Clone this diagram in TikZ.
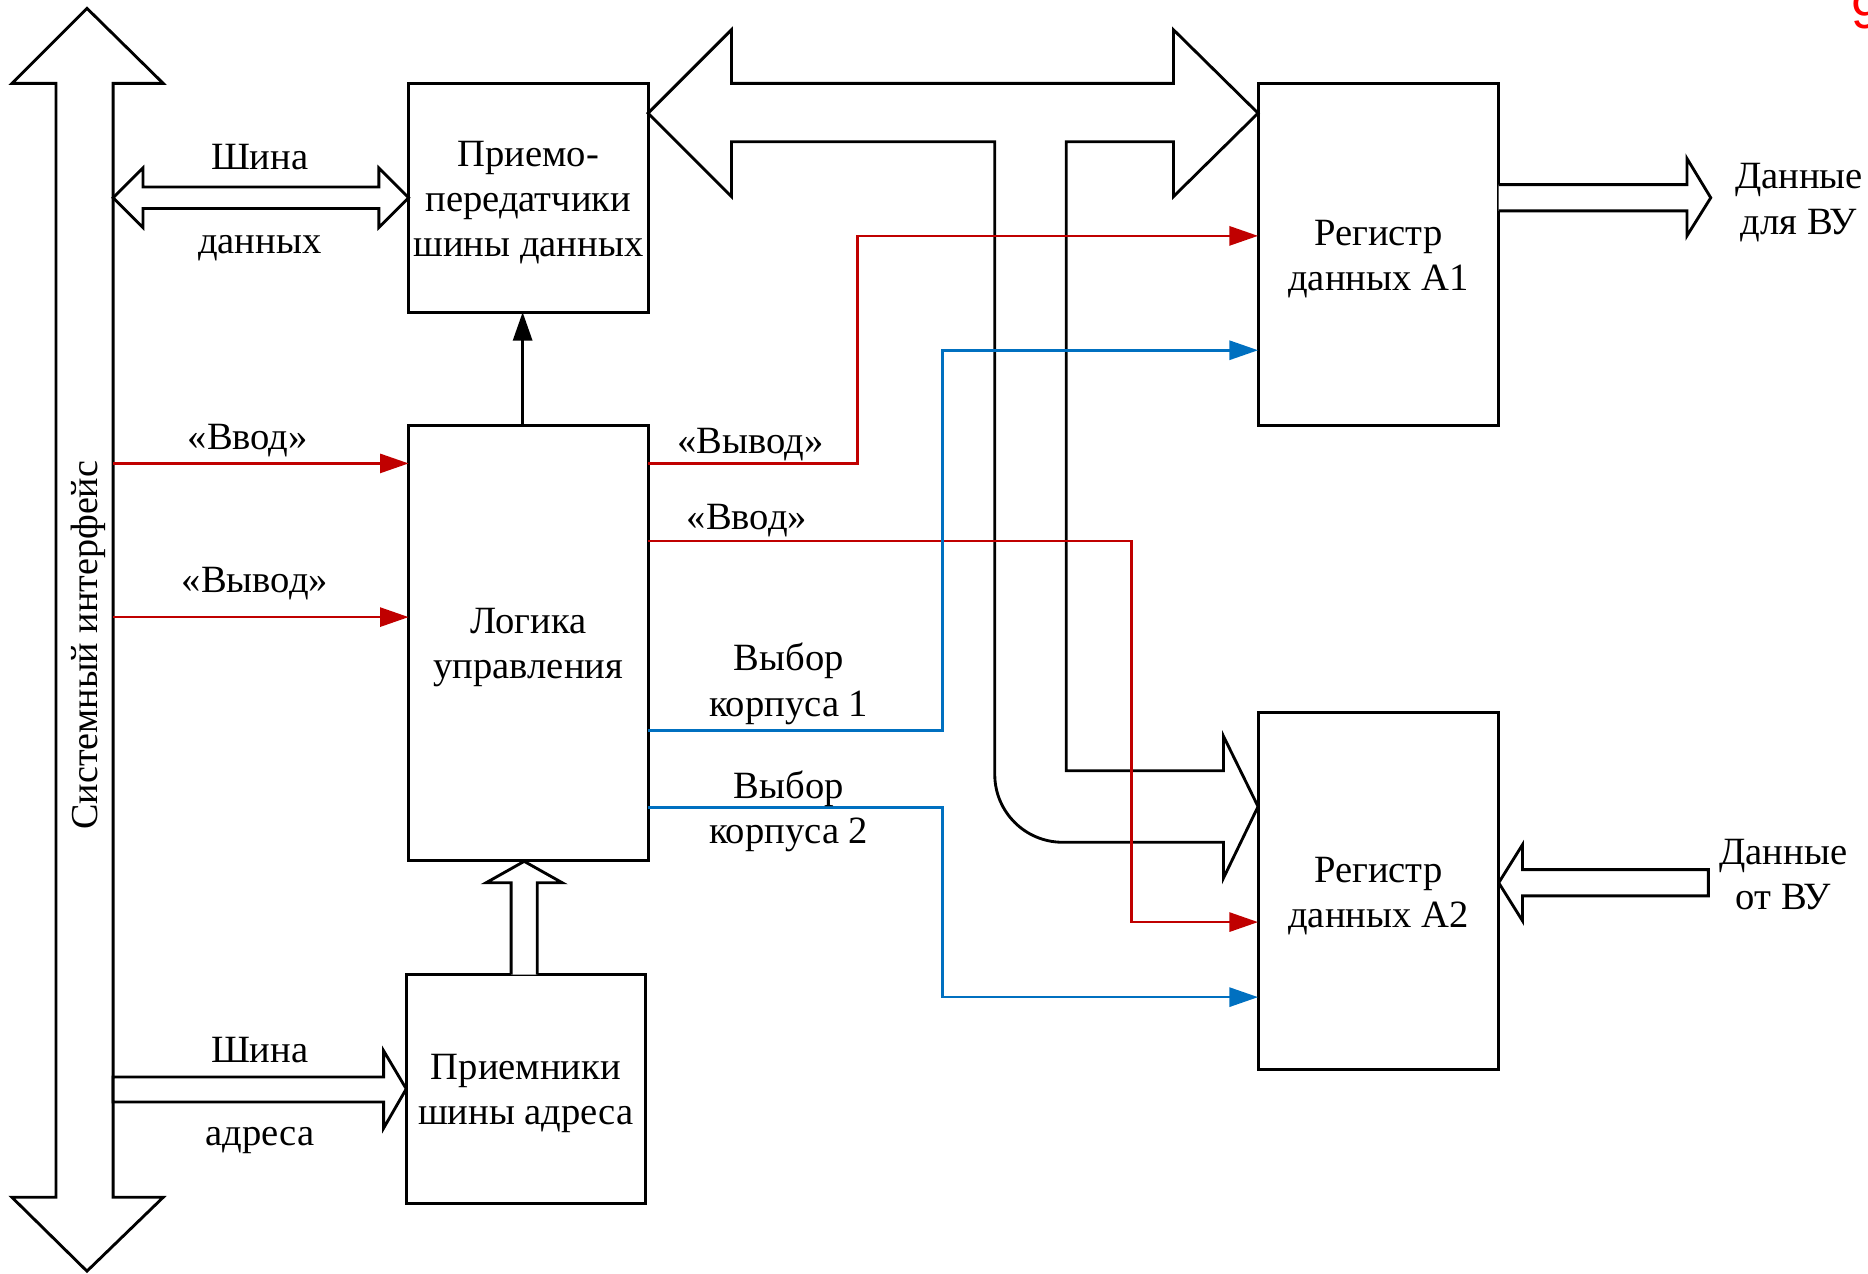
\documentclass[tikz,border=0pt]{standalone}
\usepackage{fontspec}
\setmainfont{Liberation Serif}
\newfontfamily\ninefont{Liberation Sans}
\usetikzlibrary{arrows.meta}
\definecolor{sigred}{RGB}{192,0,0}
\definecolor{sigblue}{RGB}{0,112,192}
\begin{document}
\begin{tikzpicture}[x=0.5pt,y=-0.5pt,
  font=\fontsize{16.2}{19}\selectfont,
  box/.style={draw, line width=1.3pt, inner sep=0pt, outer sep=0pt},
  wide/.style={draw, line width=1.2pt, line join=miter, fill=white},
  tip/.style={-{Triangle[length=12pt,width=8pt]}},
  redl/.style={draw=sigred, line width=1.1pt, tip},
  bluel/.style={draw=sigblue, line width=1.1pt, tip},
  blkl/.style={draw=black, line width=1.3pt, tip},
  lbl/.style={inner sep=0pt, align=center, yshift=-2pt}]
\useasboundingbox (0,0) rectangle (1568,1069);

% system interface bus
\draw[wide] (73,7) -- (137,70) -- (95,70) -- (95,1005) -- (137,1005) -- (73,1067)
  -- (10,1005) -- (47,1005) -- (47,70) -- (10,70) -- cycle;
\node[inner sep=0pt, rotate=90, font=\fontsize{16}{19}\selectfont] (si) at (74,541.5) {Системный интерфейс};

% boxes
\node[box, minimum width=100.5pt, minimum height=96pt] (P) at (443.5,166) {};
\node[lbl] (Pt) at (P.center) {Приемо-\\передатчики\\шины данных};
\node[box, minimum width=100.5pt, minimum height=182.5pt] (L) at (443.5,539.5) {};
\node[lbl] (Lt) at (L.center) {Логика\\управления};
\node[box, minimum width=100.5pt, minimum height=96pt] (R) at (441.5,914) {};
\node[lbl] (Rt) at (R.center) {Приемники\\шины адреса};
\node[box, minimum width=101pt, minimum height=143.5pt] (A1) at (1157,213.5) {};
\node[lbl] (A1t) at (A1.center) {Регистр\\данных А1};
\node[box, minimum width=101pt, minimum height=150pt] (A2) at (1157,748) {};
\node[lbl] (A2t) at (A2.center) {Регистр\\данных А2};

% data bus (left)
\draw[wide] (95,166) -- (120,141) -- (120,157) -- (318,157) -- (318,141) -- (343,166)
  -- (318,191) -- (318,175) -- (120,175) -- (120,191) -- cycle;
\node[lbl] (shd1) at (218,128) {Шина};
\node[lbl] (shd2) at (218,204) {данных};

% address bus
\draw[wide] (95,904) -- (322,904) -- (322,882) -- (341,914) -- (322,947) -- (322,925)
  -- (95,925) -- cycle;
\node[lbl] (sha1) at (218,877) {Шина};
\node[lbl] (sha2) at (218,953) {адреса};

% hollow arrow R -> L
\draw[wide] (429,818) -- (429,741) -- (408,741) -- (440,723) -- (472,741) -- (451,741)
  -- (451,818);

% internal data bus to registers
\draw[wide] (544,95) -- (614,25) -- (614,70) -- (985,70) -- (985,25) -- (1056,95)
  -- (985,165) -- (985,119) -- (895,119) -- (895,647) -- (1027,647) -- (1027,618)
  -- (1056,677) -- (1027,737) -- (1027,707) -- (892,707)
  .. controls (860.5,707) and (835,681.5) .. (835,650)
  -- (835,119) -- (614,119) -- (614,165) -- cycle;

% output to VU
\draw[wide] (1258,155) -- (1416,155) -- (1416,133) -- (1436,166) -- (1416,198)
  -- (1416,177) -- (1258,177);
\node[lbl] (dvu1) at (1510,166) {Данные\\для ВУ};
% input from VU
\draw[wide] (1434,730) -- (1278,730) -- (1278,709) -- (1258,741) -- (1278,773)
  -- (1278,752) -- (1434,752) -- cycle;
\node[lbl] (dvu2) at (1497,730) {Данные\\от ВУ};

% control signals from bus
\coordinate (bin) at (95,389);
\coordinate (bout) at (95,518);
\draw[redl] (bin) -- (bin -| L.west);
\draw[redl] (bout) -- (bout -| L.west);
\node[lbl] (lin) at (208,366) {«Ввод»};
\node[lbl] (lout) at (214,486) {«Вывод»};

% L -> P
\draw[blkl] ([xshift=-2.4pt]L.north) -- ([xshift=-2.4pt]P.south);

% outputs of control logic
\coordinate (o1) at (544,389);
\coordinate (o2) at (544,454);
\coordinate (o3) at (544,613);
\coordinate (o4) at (544,678);
\coordinate (k1) at (720,198);
\coordinate (k2) at (950,774);
\coordinate (k3) at (791,294);
\coordinate (k4) at (791,837);
\draw[redl] (o1 -| L.east) -| (k1) -- (k1 -| A1.west);
\draw[redl] (o2 -| L.east) -| (k2) -- (k2 -| A2.west);
\draw[bluel] (o3 -| L.east) -| (k3) -- (k3 -| A1.west);
\draw[bluel] (o4 -| L.east) -| (k4) -- (k4 -| A2.west);
\node[lbl] (rout) at (630,369) {«Вывод»};
\node[lbl] (rin) at (627,433) {«Ввод»};
\node[lbl] (cs1) at (662,570) {Выбор\\корпуса 1};
\node[lbl] (cs2) at (662,677) {Выбор\\корпуса 2};

% page mark
\node[anchor=base west, inner sep=0pt, text=red, font=\ninefont\fontsize{22}{22}\selectfont] (pg) at (1554,24) {9};
\end{tikzpicture}
\end{document}
